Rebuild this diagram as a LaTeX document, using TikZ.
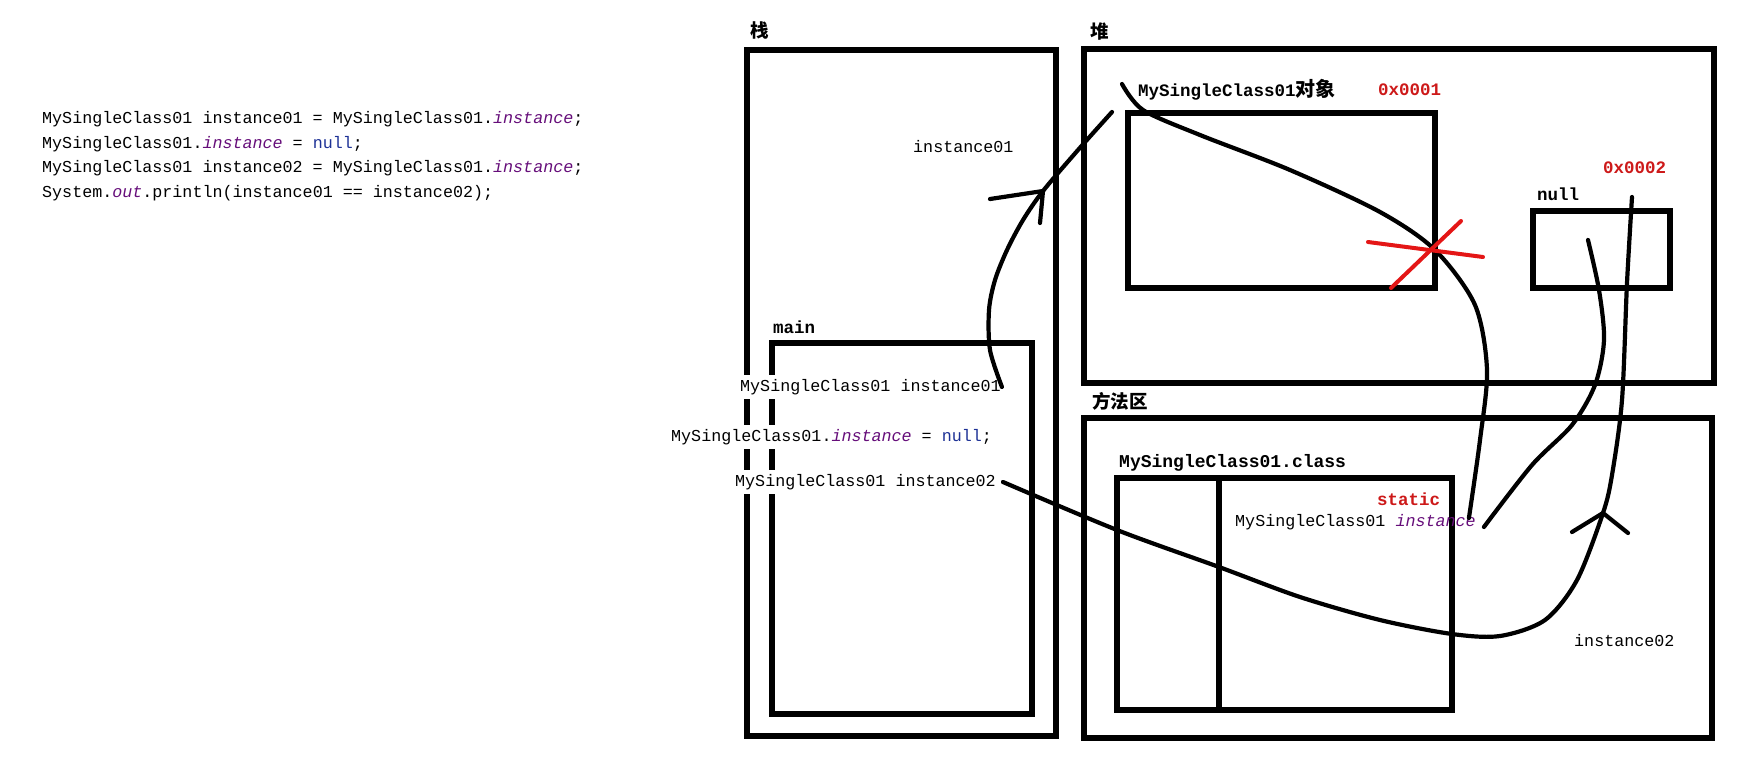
\documentclass[tikz,border=0pt]{standalone}
\usepackage{fontspec}
\newfontfamily\codefont{Liberation Mono}
\newfontfamily\cjkfont{Noto Sans CJK SC}
\definecolor{kwpurple}{RGB}{102,14,122}
\definecolor{kwblue}{RGB}{30,50,150}
\definecolor{addrred}{RGB}{205,25,25}
\definecolor{crossred}{RGB}{228,22,22}
\tikzset{
  box/.style={line width=5.5pt,line join=miter,line cap=rect},
  ptr/.style={line width=4.2pt},
  txt/.style={anchor=west,inner sep=0pt,font=\codefont\fontsize{16.7}{20}\selectfont},
  lbl/.style={anchor=west,inner sep=0pt,font=\codefont\bfseries\fontsize{17.5}{21}\selectfont},
  zh/.style={anchor=west,inner sep=0pt,font=\cjkfont\bfseries\fontsize{18.5}{22}\selectfont},
  cover/.style={txt,fill=white,inner ysep=4pt,inner xsep=1pt},
  cross/.style={line width=4pt,draw=crossred},
}
\newcommand{\fld}[1]{{\itshape\color{kwpurple}#1}}
\begin{document}
\begin{tikzpicture}[x=1pt,y=-1pt,line cap=round,line join=round]
\useasboundingbox (0,0) rectangle (1738,761);
\node[txt] (code1) at (42,119) {MySingleClass01 instance01 = MySingleClass01.\fld{instance};};
\node[txt] (code2) at (42,144) {MySingleClass01.\fld{instance} = {\color{kwblue}null};};
\node[txt] (code3) at (42,168) {MySingleClass01 instance02 = MySingleClass01.\fld{instance};};
\node[txt] (code4) at (42,193) {System.\fld{out}.println(instance01 == instance02);};

\draw[box] (747,50) rectangle (1056,736);
\draw[box] (772,343) rectangle (1032,714);
\draw[box] (1084,49) rectangle (1714,383);
\draw[box] (1128,113) rectangle (1435,288);
\draw[box] (1533,211) rectangle (1670,288);
\draw[box] (1084,418) rectangle (1712,738);
\draw[box] (1117,478) rectangle (1452,710);
\draw[box] (1219,478) -- (1219,710);

\node[zh] (stack) at (750,30) {栈};
\node[zh] (heap) at (1090,32) {堆};
\node[zh] (method) at (1092,401) {方法区};
\node[txt] (ref1) at (913,147) {instance01};
\node[lbl] (mainlbl) at (773,327) {main};
\node[cover] (i1) at (739,387) {MySingleClass01 instance01};
\node[cover] (setnull) at (670,437) {MySingleClass01.\fld{instance} = {\color{kwblue}null};};
\node[cover] (i2) at (734,482) {MySingleClass01 instance02};
\node[lbl] (obj) at (1138,90) {MySingleClass01{\cjkfont\fontsize{20}{22}\selectfont 对象}};
\node[lbl,text=addrred] (addr1) at (1378,90) {0x0001};
\node[lbl,text=addrred] (addr2) at (1603,168) {0x0002};
\node[lbl] (nulllbl) at (1537,194) {null};
\node[lbl,font=\codefont\bfseries\fontsize{18}{21}\selectfont] (cls) at (1119,463) {MySingleClass01.class};
\node[lbl,text=addrred] (static) at (1377,499) {static};
\node[txt] (clsinst) at (1235,522) {MySingleClass01 \fld{instance}};
\node[txt] (ref2) at (1574,641) {instance02};

\coordinate (objtop) at (1122,84);
\coordinate (nullin) at (1588,240);
\coordinate (newobj) at (1632,197);
\coordinate (tipA) at (1043,191);
\coordinate (tipB) at (1603,513);
\coordinate (sA) at ([xshift=-7pt,yshift=4pt]clsinst.east);
\coordinate (sB) at ([xshift=8pt,yshift=-5pt]clsinst.east);
\coordinate (sC) at ([xshift=6pt]i2.east);

\draw[ptr] plot[smooth] coordinates {(i1.east) (990,350) (989,310) (995,280) (1007,250) (1023,220) (tipA) (1078,150) (1112,112)};
\draw[ptr] (990,199) -- (tipA) -- (1040,223);
\draw[ptr] plot[smooth] coordinates {(sA) (1480,440) (1487,370) (1475,305) (1435,250) (1380,212) (1290,170) (1200,135) (1143,110) (objtop)};
\draw[ptr] plot[smooth] coordinates {(sB) (1532,465) (1572,425) (1595,385) (1604,340) (1599,290) (nullin)};
\draw[ptr] plot[smooth] coordinates {(sC) (1117,530) (1219,567) (1300,597) (1380,620) (1452,634) (1500,636) (1545,620) (1577,580) (tipB) (1612,475) (1622,400) (1627,283) (newobj)};
\draw[ptr] (1572,532) -- (tipB) -- (1628,533);

\draw[cross] (1368,242) -- (1483,257);
\draw[cross] (1391,288) -- (1461,221);
\end{tikzpicture}
\end{document}
